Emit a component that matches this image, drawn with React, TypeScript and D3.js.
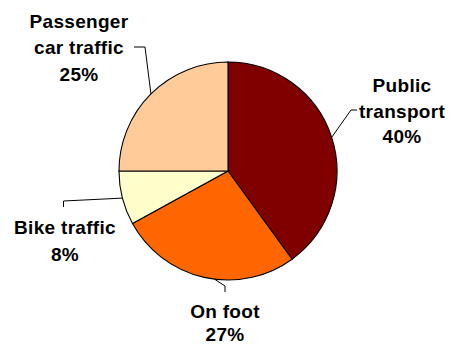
import React from "react";
import * as d3 from "d3";

const categories = ["Public transport", "On foot", "Bike traffic", "Passenger car traffic"];
const values = [40, 27, 8, 25];
const colors = ["#800000", "#FF6600", "#FFFFCC", "#FFCC99"];
const labelLines = [["Public", "transport", "40%"], ["On foot", "27%"], ["Bike traffic", "8%"], ["Passenger", "car traffic", "25%"]];

// layout (not data): label centre x, first baseline y, line gap, leader elbow points, leader angle tweak (deg)
const layout = [
  { x: 402, y: 92, gap: 25.7, elbow: [[351, 110], [357, 110]], dAng: 0 },
  { x: 225, y: 318, gap: 23, elbow: [[225, 286], [225, 292]], dAng: -5.5 },
  { x: 65, y: 234, gap: 27, elbow: [[63.5, 201], [63.5, 207]], dAng: 0 },
  { x: 79, y: 28, gap: 26.3, elbow: [[145, 47], [134, 47]], dAng: 0 },
];

const W = 452, H = 345;
const cx = 228, cy = 171, R = 109;

export default function App() {
  const pie = d3.pie<number>().sort(null).value((d) => d)(values);
  const arc = d3.arc<d3.PieArcDatum<number>>().innerRadius(0).outerRadius(R);
  return (
    <svg width={W} height={H} style={{ position: "absolute", left: 0, top: 0, background: "#fff" }}>
      <g transform={`translate(${cx},${cy})`}>
        {pie.map((p, i) => (
          <path key={categories[i]} d={arc(p) || ""} fill={colors[i]} stroke="#000" strokeWidth={1.1} />
        ))}
      </g>
      {pie.map((p, i) => {
        const a = (p.startAngle + p.endAngle) / 2 + (layout[i].dAng * Math.PI) / 180;
        const sx = cx + R * Math.sin(a);
        const sy = cy - R * Math.cos(a);
        const pts = [[sx, sy], ...layout[i].elbow];
        const line = d3.line()(pts as [number, number][]) || "";
        return <path key={"l" + i} d={line} fill="none" stroke="#000" strokeWidth={1} />;
      })}
      {labelLines.map((lines, i) => (
        <text
          key={"t" + i}
          textAnchor="middle"
          fontFamily="Arial, 'Liberation Sans', sans-serif"
          fontWeight="bold"
          fontSize={19}
          letterSpacing={0.3}
          fill="#000"
        >
          {lines.map((s, j) => (
            <tspan key={j} x={layout[i].x} y={layout[i].y + j * layout[i].gap}>
              {s}
            </tspan>
          ))}
        </text>
      ))}
    </svg>
  );
}
